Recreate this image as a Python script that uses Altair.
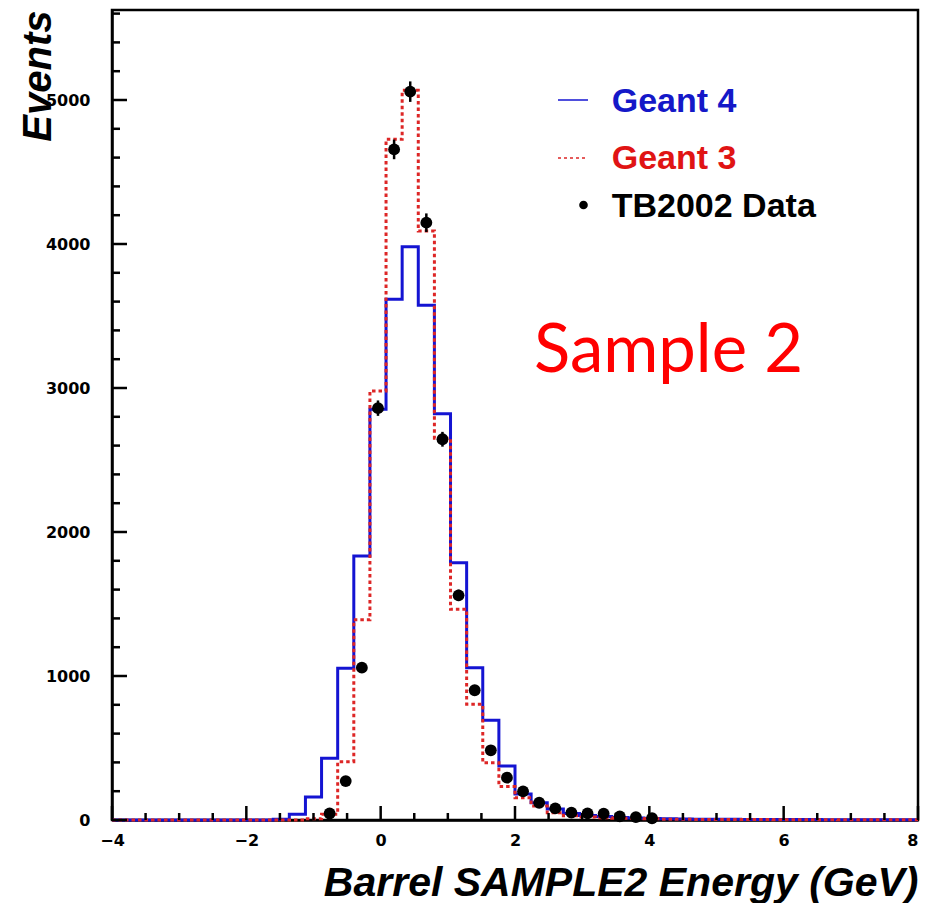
import altair as alt
import numpy as np
import pandas as pd

# ---------------- data ----------------
x_min, x_max, n_bins = -4.0, 8.0, 50          # 50 bins of 0.24 GeV

geant4 = [0, 0, 0, 0, 0, 0, 0, 0, 0, 0,
          5, 40, 160, 428, 1053, 1833, 2852, 3616, 3981, 3574,
          2822, 1787, 1058, 692, 375, 180, 120, 76, 45, 32,
          24, 18, 14, 11, 9, 7, 6, 5, 5, 4,
          4, 3, 3, 3, 2, 2, 2, 2, 1, 1]

geant3 = [0, 0, 0, 0, 0, 0, 0, 0, 0, 0,
          0, 0, 8, 40, 405, 1390, 2979, 4727, 5067, 4090,
          2651, 1463, 803, 398, 232, 155, 97, 51, 30, 20,
          15, 12, 10, 8, 6, 5, 4, 4, 3, 3,
          3, 2, 2, 2, 2, 1, 1, 1, 1, 1]

data_first_bin = 13
data_counts = [45, 270, 1058, 2860, 4657, 5058, 4148, 2644, 1560, 901,
               484, 294, 199, 120, 81, 51, 46, 44, 25, 20, 12]

x_major_ticks = [-4, -2, 0, 2, 4, 6, 8]
x_minor_ticks = [-3.5, -3, -2.5, -1.5, -1, -0.5, 0.5, 1, 1.5, 2.5, 3, 3.5,
                 4.5, 5, 5.5, 6.5, 7, 7.5]
y_major_ticks = [0, 1000, 2000, 3000, 4000, 5000]
y_minor_ticks = [200, 400, 600, 800, 1200, 1400, 1600, 1800, 2200, 2400,
                 2600, 2800, 3200, 3400, 3600, 3800, 4200, 4400, 4600, 4800,
                 5200, 5400, 5600]
y_top = 5625

legend_labels = ["Geant 4", "Geant 3", "TB2002 Data"]
annotation = "Sample 2"
x_title = "Barrel SAMPLE2 Energy (GeV)"
y_title = "Events"

# ---------------- derived tables ----------------
edges = np.linspace(x_min, x_max, n_bins + 1)
centers = 0.5 * (edges[:-1] + edges[1:])

hist_df = pd.DataFrame({
    "edge": edges,
    "g4": geant4 + [geant4[-1]],
    "g3": geant3 + [geant3[-1]],
})

pts = pd.DataFrame({
    "x": centers[data_first_bin:data_first_bin + len(data_counts)],
    "n": data_counts,
})
pts["lo"] = pts["n"] - np.sqrt(pts["n"])
pts["hi"] = pts["n"] + np.sqrt(pts["n"])

W, H = 806, 810
BLUE = "#1414d2"
RED = "#dd2626"

xscale = alt.Scale(domain=[x_min, x_max], nice=False, zero=False)
yscale = alt.Scale(domain=[0, y_top], nice=False)

x_axis = alt.Axis(
    values=x_major_ticks, format="d", title=x_title,
    labelFont="DejaVu Sans", labelFontWeight="bold", labelFontSize=16,
    labelPadding=12, labelFlush=False, labelOverlap=False,
    labelAlign={"condition": {"test": f"datum.value == {x_max}", "value": "right"},
                "value": "center"},
    titleFont="Liberation Sans", titleFontWeight="bold", titleFontStyle="italic",
    titleFontSize=41, titleX=W, titleY=75, titleAlign="right",
    titleBaseline="alphabetic", titleColor="black",
)
y_axis = alt.Axis(
    values=y_major_ticks, format="d", title=y_title,
    labelFont="DejaVu Sans", labelFontWeight="bold", labelFontSize=16,
    labelPadding=22, labelFlush=False, labelOverlap=False, labelBaseline="middle",
    titleFont="Liberation Sans", titleFontWeight="bold", titleFontStyle="italic",
    titleFontSize=40, titleX=-62, titleY=0, titleAngle=270, titleAlign="right",
    titleBaseline="alphabetic", titleColor="black",
)

def X(field):
    return alt.X(field, scale=xscale, axis=x_axis)

def Y(field):
    return alt.Y(field, scale=yscale, axis=y_axis)

base = alt.Chart(hist_df)

g4_line = base.mark_line(interpolate="step-after", color=BLUE, strokeWidth=3).encode(
    x=X("edge:Q"), y=Y("g4:Q"),
)
g3_line = base.mark_line(interpolate="step-after", color=RED, strokeWidth=3,
                         strokeDash=[3.5, 3]).encode(
    x=X("edge:Q"), y=Y("g3:Q"),
)

err = alt.Chart(pts).mark_rule(color="black", strokeWidth=2.5).encode(
    x=X("x:Q"), y=Y("lo:Q"), y2="hi:Q",
)
dots = alt.Chart(pts).mark_circle(color="black", opacity=1, size=140).encode(
    x=X("x:Q"), y=Y("n:Q"),
)

# inward ticks
xmaj = alt.Chart(pd.DataFrame({"t": x_major_ticks})).mark_rule(color="black", strokeWidth=2.5).encode(
    x=X("t:Q"), y=alt.value(H), y2=alt.value(H - 14))
xmin_ = alt.Chart(pd.DataFrame({"t": x_minor_ticks})).mark_rule(color="black", strokeWidth=2.5).encode(
    x=X("t:Q"), y=alt.value(H), y2=alt.value(H - 7))
ymaj = alt.Chart(pd.DataFrame({"t": y_major_ticks})).mark_rule(color="black", strokeWidth=2.5).encode(
    y=Y("t:Q"), x=alt.value(0), x2=alt.value(15))
ymin_ = alt.Chart(pd.DataFrame({"t": y_minor_ticks})).mark_rule(color="black", strokeWidth=2.5).encode(
    y=Y("t:Q"), x=alt.value(0), x2=alt.value(8))

# legend
one = pd.DataFrame({"k": [0]})
leg_blue = alt.Chart(one).mark_rule(color=BLUE, strokeWidth=1.5).encode(
    x=alt.value(446), x2=alt.value(476), y=alt.value(90))
leg_red = alt.Chart(one).mark_rule(color=RED, strokeWidth=1.5, strokeDash=[3, 3]).encode(
    x=alt.value(446), x2=alt.value(476), y=alt.value(148))
leg_dot = alt.Chart(one).mark_circle(color="black", opacity=1, size=75).encode(
    x=alt.value(471.5), y=alt.value(195))

def leg_text(label, color, ybase):
    return alt.Chart(pd.DataFrame({"label": [label]})).mark_text(
        font="Liberation Sans", fontWeight="bold", fontSize=34, align="left",
        baseline="alphabetic", color=color,
    ).encode(x=alt.value(499.7), y=alt.value(ybase), text="label:N")

t1 = leg_text(legend_labels[0], "#1418c8", 101.5)
t2 = leg_text(legend_labels[1], "#e01414", 159)
t3 = leg_text(legend_labels[2], "black", 207)

sample = alt.Chart(pd.DataFrame({"label": [annotation]})).mark_text(
    font="Lato", fontSize=67, align="left", baseline="alphabetic", color="#ff0000",
).encode(x=alt.value(422), y=alt.value(362), text="label:N")

chart = alt.layer(
    g4_line, g3_line, err, dots, xmaj, xmin_, ymaj, ymin_,
    leg_blue, leg_red, leg_dot, t1, t2, t3, sample,
).properties(
    width=W, height=H,
    autosize=alt.AutoSizeParams(type="none"),
    padding={"left": 104, "top": 2, "right": 3, "bottom": 83},
    background="white",
).configure_view(
    stroke="black", strokeWidth=2.5,
).configure_axis(
    domainColor="black", domainWidth=2.5, grid=False, ticks=False, tickSize=0,
    labelColor="black",
)

chart.save("out.html", embed_options={"renderer": "svg", "actions": False})
